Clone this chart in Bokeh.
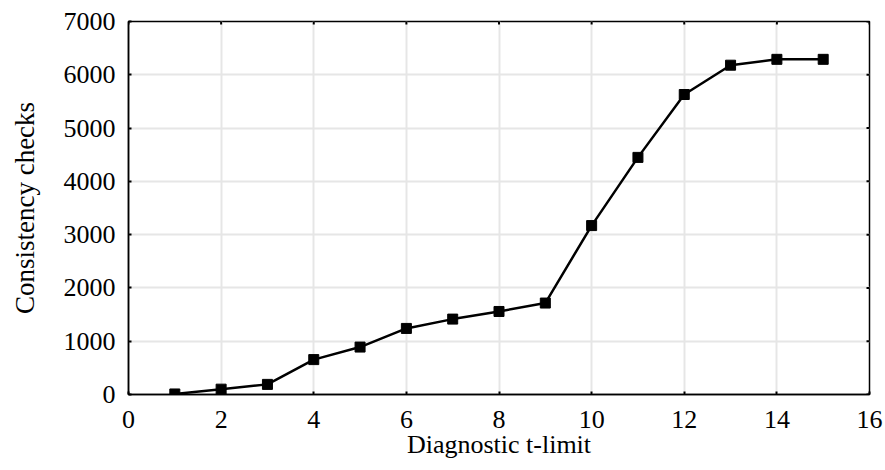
from bokeh.plotting import figure
from bokeh.models import FixedTicker, Range1d
from bokeh.embed import file_html
from bokeh.resources import INLINE

t_limit = [1, 2, 3, 4, 5, 6, 7, 8, 9, 10, 11, 12, 13, 14, 15]
checks = [10, 100, 190, 655, 890, 1240, 1415, 1558, 1716, 3170, 4450, 5630, 6180, 6290, 6290]
x_ticks = [0, 2, 4, 6, 8, 10, 12, 14, 16]
y_ticks = [0, 1000, 2000, 3000, 4000, 5000, 6000, 7000]

FONT = "Liberation Serif"
FS = "26px"

p = figure(width=884, height=468, output_backend="svg", toolbar_location=None,
           x_range=Range1d(0, 16), y_range=Range1d(0, 7000),
           min_border_left=128, min_border_right=15, min_border_top=21, min_border_bottom=74)

p.background_fill_color = "white"
p.border_fill_color = "white"
p.outline_line_color = "black"
p.outline_line_width = 1.5

for ax, ticks in ((p.xaxis[0], x_ticks), (p.yaxis[0], y_ticks)):
    ax.ticker = FixedTicker(ticks=ticks)
    ax.minor_tick_line_color = None
    ax.major_tick_in = 3
    ax.major_tick_out = 0
    ax.major_tick_line_width = 2
    ax.major_tick_line_color = "black"
    ax.axis_line_color = "black"
    ax.axis_line_width = 1.5
    ax.major_label_text_font = FONT
    ax.major_label_text_font_size = FS
    ax.major_label_text_color = "black"
    ax.axis_label_text_font = FONT
    ax.axis_label_text_font_style = "normal"
    ax.axis_label_text_color = "black"

p.xaxis[0].major_label_standoff = 16
p.yaxis[0].major_label_standoff = 13

p.xaxis[0].axis_label = "Diagnostic t-limit"
p.xaxis[0].axis_label_text_font_size = FS
p.xaxis[0].axis_label_standoff = -1

p.yaxis[0].axis_label = "Consistency checks"
p.yaxis[0].axis_label_text_font_size = "27px"
p.yaxis[0].axis_label_standoff = 21

p.xgrid.ticker = FixedTicker(ticks=x_ticks)
p.ygrid.ticker = FixedTicker(ticks=y_ticks)
for g in (p.xgrid[0], p.ygrid[0]):
    g.grid_line_color = "#e6e6e6"
    g.grid_line_width = 2

# inward tick marks on the top and right edges of the frame
p.ray(x=x_ticks, y=[y_ticks[-1]] * len(x_ticks), length=3, length_units="screen",
      angle=-90, angle_units="deg", line_color="black", line_width=2)
p.ray(x=[x_ticks[-1]] * len(y_ticks), y=y_ticks, length=3, length_units="screen",
      angle=180, angle_units="deg", line_color="black", line_width=2)

p.line(t_limit, checks, line_color="black", line_width=2.5)
p.scatter(t_limit, checks, marker="square", size=10, fill_color="black", line_color="black")

open("out.html", "w").write(file_html(p, INLINE))
